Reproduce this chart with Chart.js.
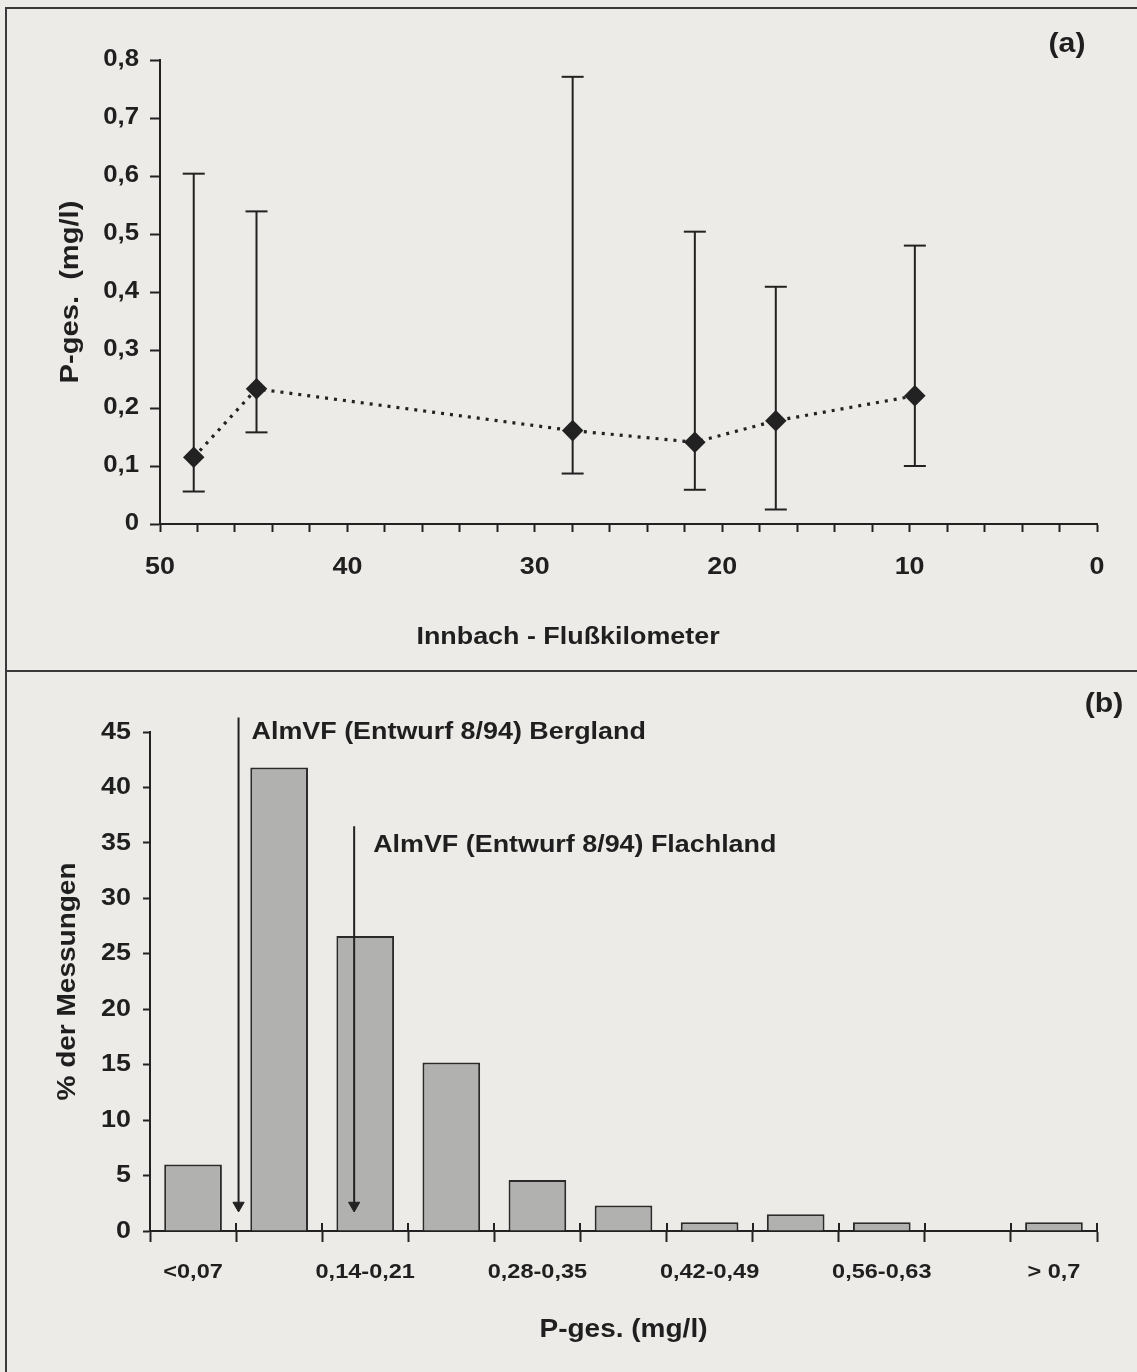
<!DOCTYPE html>
<html><head><meta charset="utf-8">
<script src="https://cdn.jsdelivr.net/npm/chart.js@4.4.1/dist/chart.umd.min.js"></script>
<style>
html,body{margin:0;padding:0;background:#ecebe7;width:1137px;height:1372px;overflow:hidden;}
#frame{position:absolute;left:5px;top:7px;width:1140px;height:1370px;border-left:2px solid #3a3a3a;border-top:2px solid #3a3a3a;}
#divider{position:absolute;left:5px;top:670px;width:1132px;height:0;border-top:2px solid #3a3a3a;}
#ca{position:absolute;left:0;top:0;}
#cb{position:absolute;left:0;top:670px;}
</style></head><body>
<div id="frame"></div><div id="divider"></div>
<canvas id="ca" width="1137" height="670"></canvas>
<canvas id="cb" width="1137" height="702"></canvas>
<script>
// ---- Panel (a): Innbach, P-ges. along the river ----
const stationKm = [48.2, 44.85, 27.98, 21.46, 17.14, 9.72];
const pMean = [0.115, 0.233, 0.161, 0.141, 0.178, 0.221];
const pMin  = [0.056, 0.158, 0.087, 0.059, 0.025, 0.100];
const pMax  = [0.604, 0.539, 0.771, 0.504, 0.409, 0.480];

// ---- Panel (b): frequency distribution ----
const classLabels = ['<0,07','0,07-0,14','0,14-0,21','0,21-0,28','0,28-0,35','0,35-0,42','0,42-0,49','0,49-0,56','0,56-0,63','0,63-0,7','> 0,7'];
const percentMeasurements = [6.0, 41.8, 26.6, 15.2, 4.6, 2.3, 0.8, 1.5, 0.8, 0, 0.8];
const limitNames = ['AlmVF (Entwurf 8/94) Bergland', 'AlmVF (Entwurf 8/94) Flachland'];
const limitValues = [0.072, 0.166]; // mg/l

// The scanned original uses a slightly wide bold sans; stretch glyphs horizontally a little.
const TEXT_STRETCH = 1.12;
const _fillText = CanvasRenderingContext2D.prototype.fillText;
CanvasRenderingContext2D.prototype.fillText = function (t, x, y, maxW) {
  this.save();
  this.translate(x, y);
  this.scale(TEXT_STRETCH, 1);
  if (maxW !== undefined) _fillText.call(this, t, 0, 0, maxW / TEXT_STRETCH);
  else _fillText.call(this, t, 0, 0);
  this.restore();
};

const FONT = '"Liberation Sans", Arial, Helvetica, sans-serif';
const INK = '#1f1f1f';
Chart.defaults.font.family = FONT;
Chart.defaults.font.weight = 'bold';
Chart.defaults.color = INK;
Chart.defaults.animation = false;

const commaFmt = v => (Math.abs(v) < 1e-9 ? '0' : Number(v).toFixed(1).replace('.', ','));

const textPlugin = {
  id: 'panelText',
  afterDraw(chart, args, opts) {
    const ctx = chart.ctx;
    ctx.save();
    ctx.fillStyle = INK;
    (opts.items || []).forEach(it => {
      const pos = typeof it.pos === 'function' ? it.pos(chart) : it.pos;
      ctx.font = 'bold ' + it.size + 'px ' + FONT;
      ctx.textAlign = it.align || 'center';
      ctx.textBaseline = 'middle';
      ctx.fillText(it.text, pos[0], pos[1]);
    });
    ctx.restore();
  }
};

const rangePoints = stationKm.flatMap((k, i) => [{x: k, y: pMin[i]}, {x: k, y: pMax[i]}, {x: k, y: null}]);
const meanPoints = stationKm.map((k, i) => ({x: k, y: pMean[i]}));

new Chart(document.getElementById('ca'), {
  type: 'line',
  data: {
    datasets: [
      { data: rangePoints, showLine: true, spanGaps: false, borderColor: '#222', borderWidth: 2,
        pointStyle: 'line', pointRadius: 11, pointHoverRadius: 11, pointBorderWidth: 2, pointBorderColor: '#222', fill: false, order: 2 },
      { data: meanPoints, borderColor: '#222', borderWidth: 3.2, borderDash: [3, 6],
        pointStyle: 'rectRot', pointRadius: 8.5, pointHoverRadius: 8.5, pointBackgroundColor: '#222', pointBorderColor: '#222', fill: false, order: 1 }
    ]
  },
  options: {
    responsive: false,
    layout: { padding: { left: 0, right: 40, top: 60, bottom: 0 } },
    plugins: {
      legend: { display: false }, tooltip: { enabled: false },
      panelText: { items: [
        { text: '(a)', size: 27, pos: [1067, 45] },
        { text: 'Innbach - Flußkilometer', size: 24, pos: [568, 637] }
      ]}
    },
    scales: {
      x: {
        type: 'linear', min: 0, max: 50, reverse: true,
        grid: { drawOnChartArea: false, drawTicks: true, tickLength: 8, tickWidth: 2, tickColor: '#222' },
        border: { display: true, color: '#222', width: 2 },
        ticks: { stepSize: 2, autoSkip: false, maxRotation: 0, padding: 21, font: { size: 24, weight: 'bold' }, color: INK,
                 callback: v => (v % 10 === 0 ? String(v) : '') },
        afterFit: s => { s.height = 146; }
      },
      y: {
        min: 0, max: 0.8,
        grid: { drawOnChartArea: false, drawTicks: true, tickLength: 10, tickWidth: 2, tickColor: '#222' },
        border: { display: true, color: '#222', width: 2 },
        ticks: { stepSize: 0.1, padding: 11, font: { size: 23, weight: 'bold' }, color: INK, callback: commaFmt },
        title: { display: true, text: 'P-ges.  (mg/l)', font: { size: 26, weight: 'bold' }, color: INK, padding: { top: 55, bottom: 0 } },
        afterFit: s => { s.width = 160; }
      }
    }
  },
  plugins: [textPlugin]
});

// ---- Panel (b) ----
const crossTicks = {
  id: 'crossTicks',
  afterDatasetsDraw(chart) {
    const xs = chart.scales.x, ctx = chart.ctx;
    const n = chart.data.labels.length;
    const slot = xs.getPixelForValue(1) - xs.getPixelForValue(0);
    ctx.save();
    ctx.strokeStyle = '#222'; ctx.lineWidth = 2;
    for (let i = 0; i <= n; i++) {
      const x = Math.round(xs.getPixelForValue(0) - slot / 2 + i * slot);
      ctx.beginPath(); ctx.moveTo(x, xs.top - 8); ctx.lineTo(x, xs.top); ctx.stroke();
    }
    ctx.restore();
  }
};

const arrowTop = [46.3, 36.5];
const arrowTip = [2.3, 2.3];
const arrowLabelY = [45.0, 34.8];
const arrowLabelGap = [13, 19];

new Chart(document.getElementById('cb'), {
  type: 'bar',
  data: {
    labels: classLabels,
    datasets: [
      { type: 'bar', data: percentMeasurements, backgroundColor: '#b1b1af', borderColor: '#2a2a2a', borderWidth: 2,
        barPercentage: 0.67, categoryPercentage: 1.0, grouped: false, order: 2 },
      ...limitValues.map((v, i) => ({
        type: 'line', xAxisID: 'x2', data: [{x: v, y: arrowTop[i]}, {x: v, y: arrowTip[i]}],
        borderColor: '#222', borderWidth: 2, pointStyle: 'triangle', pointRotation: 180,
        pointRadius: [0, 6.5], pointHoverRadius: [0, 6.5], pointBackgroundColor: '#222', pointBorderColor: '#222', pointBorderWidth: 1,
        clip: false, order: 1
      }))
    ]
  },
  options: {
    responsive: false,
    layout: { padding: { left: 0, right: 40, top: 62, bottom: 0 } },
    plugins: {
      legend: { display: false }, tooltip: { enabled: false },
      panelText: { items: [
        { text: '(b)', size: 27, pos: [1104, 35] },
        ...limitNames.map((t, i) => ({ text: t, size: 24, align: 'left',
          pos: ch => [ch.scales.x2.getPixelForValue(limitValues[i]) + arrowLabelGap[i], ch.scales.y.getPixelForValue(arrowLabelY[i])] }))
      ]}
    },
    scales: {
      x: {
        type: 'category', offset: true,
        grid: { offset: true, drawOnChartArea: false, drawTicks: true, tickLength: 11, tickWidth: 2, tickColor: '#222' },
        border: { display: true, color: '#222', width: 2 },
        ticks: { autoSkip: false, maxRotation: 0, padding: 18, font: { size: 21, weight: 'bold' }, color: INK,
                 callback: (v, i) => (i % 2 === 0 ? classLabels[i] : '') },
        title: { display: true, text: 'P-ges. (mg/l)', font: { size: 25, weight: 'bold' }, color: INK, padding: { top: 0, bottom: 27 } },
        afterFit: s => { s.height = 141; }
      },
      x2: { type: 'linear', min: 0, max: 0.77, offset: false, display: false, grid: { offset: false } },
      y: {
        min: 0, max: 45,
        grid: { drawOnChartArea: false, drawTicks: true, tickLength: 7, tickWidth: 2, tickColor: '#222' },
        border: { display: true, color: '#222', width: 2 },
        ticks: { stepSize: 5, padding: 12, font: { size: 24, weight: 'bold' }, color: INK },
        title: { display: true, text: '% der Messungen', font: { size: 25, weight: 'bold' }, color: INK, padding: { top: 53, bottom: 0 } },
        afterFit: s => { s.width = 150; }
      }
    }
  },
  plugins: [textPlugin, crossTicks]
});
</script>
</body></html>
